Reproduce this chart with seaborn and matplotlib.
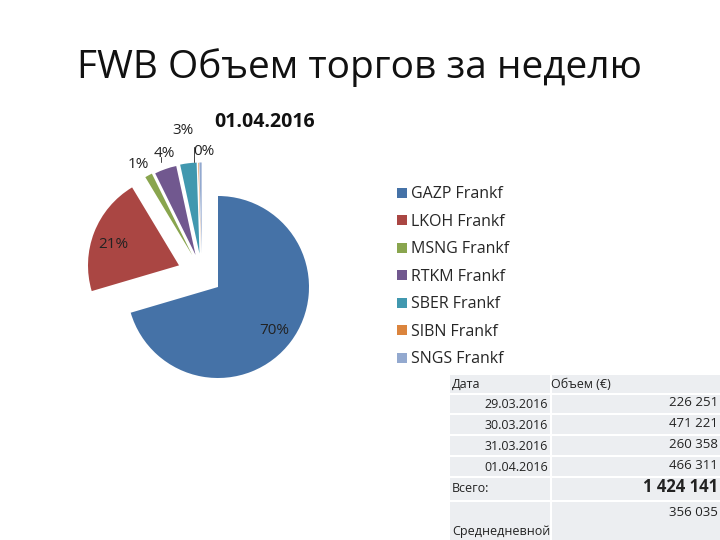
import matplotlib
matplotlib.use("Agg")
import matplotlib.pyplot as plt
import seaborn as sns
import numpy as np
from matplotlib.patches import Rectangle

sns.set_style("white")
plt.rcParams['font.family'] = ['Open Sans', 'DejaVu Sans']

# ---- data ----
tickers = ["GAZP Frankf", "LKOH Frankf", "MSNG Frankf", "RTKM Frankf",
           "SBER Frankf", "SIBN Frankf", "SNGS Frankf"]
shares = [70.3, 20.9, 1.3, 3.9, 2.9, 0.1, 0.4]
show_label = [True, True, True, True, True, False, True]
colors = ["#4572A7", "#AA4643", "#89A54E", "#71588F", "#4198AF", "#DB843D", "#93A9CF"]

dates = ["29.03.2016", "30.03.2016", "31.03.2016", "01.04.2016"]
volumes = ["226 251", "471 221", "260 358", "466 311"]
total = "1 424 141"
average = "356 035"

W, H = 720, 540
fig = plt.figure(figsize=(7.2, 5.4), dpi=100)

def fx(px):
    return px / W

def fy(py):
    return 1 - py / H

fig.text(fx(359), fy(68), "FWB Объем торгов за неделю", ha="center", va="center",
         fontsize=28, color="#111111")
fig.text(fx(265), fy(122), "01.04.2016", ha="center", va="center",
         fontsize=14, fontweight="bold", color="#111111")

# ---- pie ----
R = 91.0
half = 150.0
cxp, cyp = 218, 287
ax = fig.add_axes([fx(cxp - half), fy(cyp + half), 2 * half / W, 2 * half / H])
wedges, _ = ax.pie(shares, colors=colors, startangle=90, counterclock=False,
                   radius=1.0, wedgeprops=dict(linewidth=0))
ax.set_xlim(-half / R, half / R)
ax.set_ylim(-half / R, half / R)
ax.set_aspect("equal")
ax.axis("off")

# exploded-slice offsets (distance, direction in degrees)
offsets = [(0.0, 0.0), (0.49, 151.0), (0.45, 129.0), (0.43, 125.0),
           (0.42, 119.0), (0.41, 117.0), (0.41, 116.0)]
for w, (d, a) in zip(wedges, offsets):
    w.set_center((d * np.cos(np.deg2rad(a)), d * np.sin(np.deg2rad(a))))

tot = sum(shares)
label_r = [0.78, 0.76, 1.16, 1.17, 1.36, 1.12, 1.12]
label_shift = [-0.5, 3.5, 2.0, -2.0, 0.5, 0.0, -2.0]  # degrees
for i, w in enumerate(wedges):
    if not show_label[i]:
        continue
    ang = np.deg2rad((w.theta1 + w.theta2) / 2 + label_shift[i])
    cx, cy = w.center
    pct = shares[i] / tot * 100
    ax.text(cx + label_r[i] * np.cos(ang), cy + label_r[i] * np.sin(ang),
            f"{pct:.0f}%", ha="center", va="center", fontsize=11, color="#222222")

# leader lines for the two small labels that have them
gx, gy = wedges[3].center
ax.plot([gx - 0.38, gx - 0.38], [gy + 1.02, gy + 1.08], color="#444444", lw=0.7)
tx_, ty_ = wedges[6].center
ax.plot([tx_ - 0.08, tx_ - 0.08], [ty_ + 1.0, ty_ + 1.17], color="#444444", lw=0.7)

# ---- legend ----
fig.legend(wedges, tickers, loc="upper left",
           bbox_to_anchor=(fx(391), fy(180)), frameon=False,
           fontsize=11.5, handlelength=0.6, handleheight=0.6,
           handletextpad=0.25, labelspacing=0.72, borderaxespad=0)

# ---- table ----
tax = fig.add_axes([fx(450), 0, fx(720) - fx(450), fy(375)])
tax.set_xlim(450, 720)
tax.set_ylim(540, 375)
tax.axis("off")
bg = "#ECEEF1"
c1 = (450, 550)
c2 = (552, 722)
rows = [(375, 393), (395, 413), (415, 434), (436, 455), (457, 476), (478, 500), (502, 540)]
for (y0, y1) in rows:
    for (x0, x1) in (c1, c2):
        tax.add_patch(Rectangle((x0, y0), x1 - x0, y1 - y0, facecolor=bg, edgecolor="none"))

fs = 9
tc = "#222222"
tax.text(452, 384, "Дата", ha="left", va="center", fontsize=fs, color=tc)
tax.text(551, 384, "Объем (€)", ha="left", va="center", fontsize=fs, color=tc)
for k, (d, v) in enumerate(zip(dates, volumes)):
    y = rows[k + 1]
    yc = (y[0] + y[1]) / 2 + 1
    tax.text(548, yc, d, ha="right", va="center", fontsize=fs, color=tc)
    tax.text(718, yc - 2, v, ha="right", va="center", fontsize=fs + 0.5, color=tc)
tax.text(452, 489, "Всего:", ha="left", va="center", fontsize=fs, color=tc)
tax.text(718, 487, total, ha="right", va="center", fontsize=12, fontweight="bold", color=tc)
tax.text(718, 512, average, ha="right", va="center", fontsize=fs + 0.5, color=tc)
tax.text(452, 531, "Среднедневной", ha="left", va="center", fontsize=fs, color=tc)

fig.savefig("out.png", dpi=100)
